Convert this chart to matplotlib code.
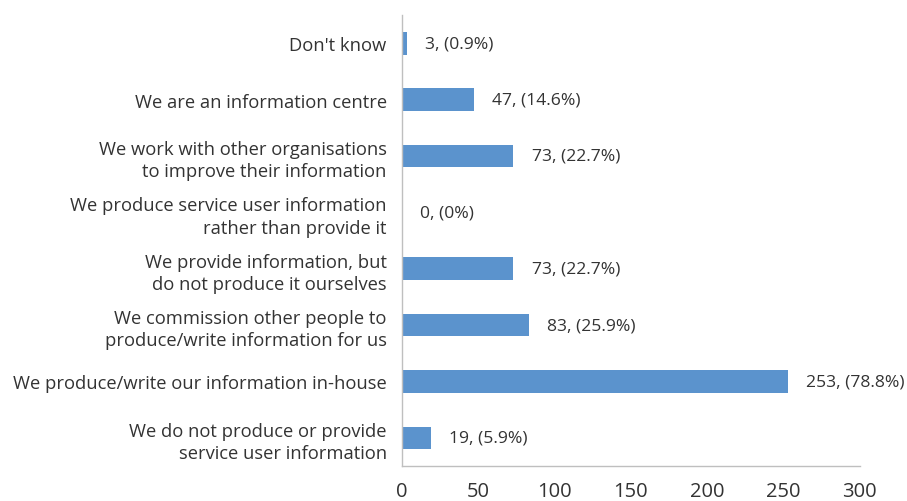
import matplotlib
matplotlib.use("Agg")
import matplotlib.pyplot as plt

plt.rcParams["font.family"] = ["Open Sans", "DejaVu Sans"]

CATEGORIES = [
    "We do not produce or provide\nservice user information",
    "We produce/write our information in-house",
    "We commission other people to\nproduce/write information for us",
    "We provide information, but\ndo not produce it ourselves",
    "We produce service user information\nrather than provide it",
    "We work with other organisations\nto improve their information",
    "We are an information centre",
    "Don't know",
]
COUNTS = [19, 253, 83, 73, 0, 73, 47, 3]
PERCENTS = ["5.9%", "78.8%", "25.9%", "22.7%", "0%", "22.7%", "14.6%", "0.9%"]
X_TICKS = [0, 50, 100, 150, 200, 250, 300]

BAR_COLOR = "#5B93CD"
TEXT_COLOR = "#333333"
AXIS_COLOR = "#bfbfbf"


def main():
    fig = plt.figure(figsize=(9.07, 5.02), dpi=100)
    ax = fig.add_axes([0.4432, 0.0697, 0.5048, 0.8983])

    pos = list(range(len(CATEGORIES)))
    ax.barh(pos, COUNTS, height=0.4, color=BAR_COLOR)

    for y, c, p in zip(pos, COUNTS, PERCENTS):
        ax.text(c + 12, y, f"{c}, ({p})", va="center", ha="left",
                fontsize=12.6, color=TEXT_COLOR)

    ax.set_xlim(0, 300)
    ax.set_ylim(-0.5, len(CATEGORIES) - 0.5)
    ax.set_xticks(X_TICKS)
    ax.set_yticks(pos)
    ax.set_yticklabels(CATEGORIES, ha="right", multialignment="right",
                       linespacing=1.3)
    ax.tick_params(axis="both", length=0, colors=TEXT_COLOR)
    ax.tick_params(axis="x", pad=11, labelsize=14.5)
    ax.tick_params(axis="y", pad=11, labelsize=13.2)

    for side in ["top", "right"]:
        ax.spines[side].set_visible(False)
    for side in ["left", "bottom"]:
        ax.spines[side].set_color(AXIS_COLOR)
        ax.spines[side].set_linewidth(1.0)

    fig.savefig("out.png", dpi=100)
    plt.close(fig)


if __name__ == "__main__":
    main()
